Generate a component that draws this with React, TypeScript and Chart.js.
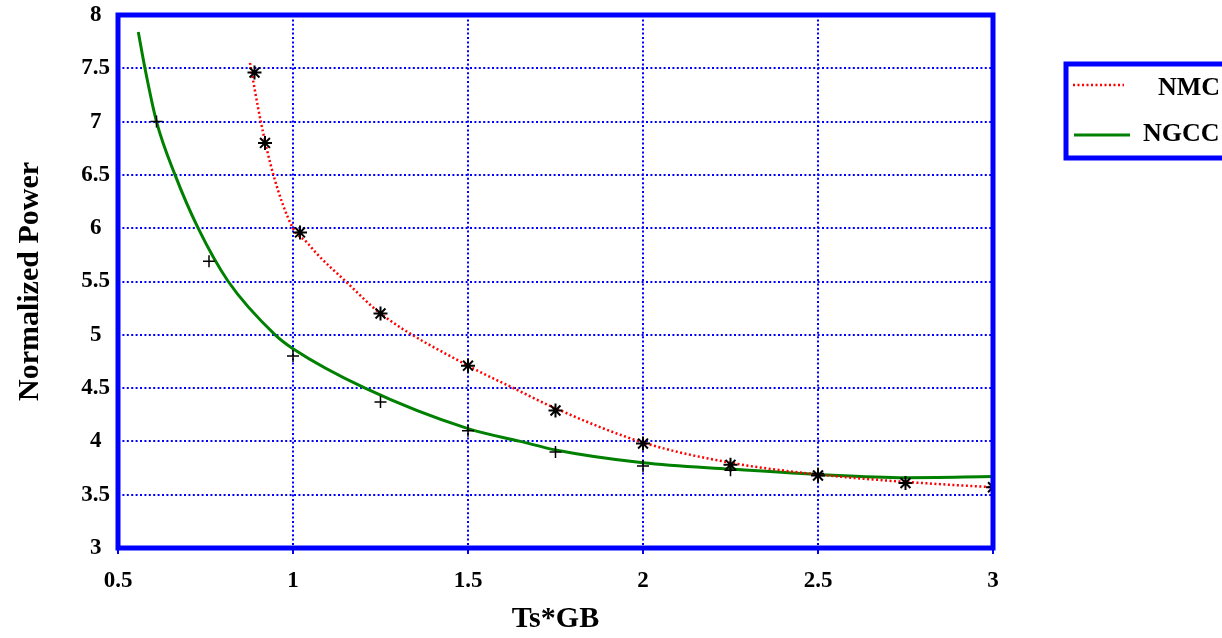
import React, { useEffect, useRef } from "react";
import { Chart, registerables } from "chart.js";

Chart.register(...registerables);

// Smooth fitted curves
const nmcCurveX = [0.877, 0.908, 0.944, 1.0, 1.039, 1.068, 1.151, 1.25, 1.5, 1.63, 1.75, 2.0, 2.25, 2.5, 2.75, 3.0];
const nmcCurveY = [7.55, 7.0, 6.5, 6.0, 5.87, 5.76, 5.5, 5.2, 4.71, 4.5, 4.31, 3.99, 3.8, 3.69, 3.62, 3.57];

const ngccCurveX = [0.558, 0.577, 0.61, 0.663, 0.729, 0.815, 0.949, 1.0, 1.206, 1.5, 1.65, 1.75, 2.0, 2.25, 2.5, 2.75, 3.0];
const ngccCurveY = [7.84, 7.5, 7.0, 6.5, 6.0, 5.5, 5.0, 4.87, 4.5, 4.12, 4.0, 3.92, 3.8, 3.74, 3.69, 3.66, 3.67];

// Measured points
const nmcPtsX = [0.89, 0.92, 1.02, 1.25, 1.5, 1.75, 2.0, 2.25, 2.5, 2.75, 3.0];
const nmcPtsY = [7.46, 6.8, 5.96, 5.2, 4.71, 4.29, 3.98, 3.78, 3.68, 3.61, 3.57];
const ngccPtsX = [0.61, 0.76, 1.0, 1.25, 1.5, 1.75, 2.0, 2.25, 2.5];
const ngccPtsY = [7.0, 5.69, 4.8, 4.37, 4.1, 3.9, 3.77, 3.73, 3.7];

const seriesLabels = ["NMC", "NGCC"];
const xTitle = "Ts*GB";
const yTitle = "Normalized Power";

const FONT = "'Liberation Serif', 'Times New Roman', serif";
const BLUE = "#0000ff";

const zip = (xs: number[], ys: number[]) => xs.map((x, i) => ({ x, y: ys[i] }));
const fmt = (v: any) => String(Number(v));

const frameAndLegend = {
  id: "frameAndLegend",
  afterDatasetsDraw(chart: any) {
    const { ctx, chartArea } = chart;
    ctx.save();
    ctx.strokeStyle = BLUE;
    ctx.lineWidth = 5;
    ctx.setLineDash([]);
    ctx.strokeRect(chartArea.left, chartArea.top, chartArea.right - chartArea.left, chartArea.bottom - chartArea.top);
    ctx.restore();
  },
  afterDraw(chart: any) {
    const { ctx } = chart;
    ctx.save();
    ctx.strokeStyle = BLUE;
    ctx.lineWidth = 5;
    ctx.setLineDash([]);
    ctx.strokeRect(1066, 64, 180, 94);
    const items = chart.data.datasets.filter((d: any) => d.legendItem);
    const rows = [
      { y: 85, lineStart: 1073, lineEnd: 1124, textX: 1158, textY: 88 },
      { y: 135, lineStart: 1074, lineEnd: 1130, textX: 1143, textY: 134 },
    ];
    items.forEach((d: any, i: number) => {
      const r = rows[i];
      ctx.beginPath();
      ctx.strokeStyle = d.borderColor;
      ctx.lineWidth = d.borderWidth;
      ctx.setLineDash(d.borderDash || []);
      ctx.moveTo(r.lineStart, r.y);
      ctx.lineTo(r.lineEnd, r.y);
      ctx.stroke();
      ctx.setLineDash([]);
      ctx.fillStyle = "#000";
      ctx.font = `bold 26px ${FONT}`;
      ctx.textAlign = "left";
      ctx.textBaseline = "middle";
      ctx.fillText(d.label, r.textX, r.textY);
    });
    ctx.restore();
  },
};

export default function App() {
  const ref = useRef<HTMLCanvasElement | null>(null);

  useEffect(() => {
    if (!ref.current) return;
    const chart = new Chart(ref.current, {
      type: "scatter",
      data: {
        datasets: [
          {
            type: "line",
            label: seriesLabels[0],
            legendItem: true,
            data: zip(nmcCurveX, nmcCurveY),
            borderColor: "#ff0000",
            borderWidth: 2.5,
            borderDash: [2, 2.5],
            pointRadius: 0,
            cubicInterpolationMode: "monotone",
            fill: false,
            order: 2,
          } as any,
          {
            type: "line",
            label: seriesLabels[1],
            legendItem: true,
            data: zip(ngccCurveX, ngccCurveY),
            borderColor: "#008000",
            borderWidth: 3,
            pointRadius: 0,
            cubicInterpolationMode: "monotone",
            fill: false,
            order: 3,
          } as any,
          {
            label: seriesLabels[0] + " points",
            data: zip(nmcPtsX, nmcPtsY),
            pointStyle: "star",
            pointRadius: 7,
            borderColor: "#000",
            backgroundColor: "#000",
            pointBorderWidth: 2,
            showLine: false,
            order: 0,
          } as any,
          {
            label: seriesLabels[1] + " points",
            data: zip(ngccPtsX, ngccPtsY),
            pointStyle: "cross",
            pointRadius: 6,
            borderColor: "#000",
            backgroundColor: "#000",
            pointBorderWidth: 1.5,
            showLine: false,
            order: 1,
          } as any,
        ],
      },
      options: {
        animation: false,
        responsive: false,
        layout: { padding: { left: 0, right: 229, top: 15, bottom: 0 } },
        plugins: {
          legend: { display: false },
          tooltip: { enabled: false },
        },
        scales: {
          x: {
            type: "linear",
            min: 0.5,
            max: 3,
            afterFit: (s: any) => {
              s.height = 90;
              s.paddingLeft = 0;
              s.paddingRight = 0;
            },
            ticks: {
              stepSize: 0.5,
              color: "#000",
              padding: 13,
              maxRotation: 0,
              callback: fmt,
              font: { family: FONT, weight: "bold", size: 23 },
            },
            grid: {
              color: BLUE,
              lineWidth: 2,
              drawTicks: true,
              tickLength: 6,
            },
            border: { display: false, dash: [2, 2.4] },
            title: {
              display: true,
              text: xTitle,
              color: "#000",
              font: { family: FONT, weight: "bold", size: 30 },
              padding: { top: 0, bottom: 1 },
            },
          },
          y: {
            type: "linear",
            min: 3,
            max: 8,
            afterFit: (s: any) => {
              s.width = 118;
              s.paddingTop = 0;
              s.paddingBottom = 0;
            },
            ticks: {
              stepSize: 0.5,
              color: "#000",
              padding: 8,
              crossAlign: "center",
              callback: fmt,
              font: { family: FONT, weight: "bold", size: 23 },
            },
            grid: {
              color: BLUE,
              lineWidth: 2,
              drawTicks: false,
            },
            border: { display: false, dash: [2, 2.4] },
            title: {
              display: true,
              text: yTitle,
              color: "#000",
              font: { family: FONT, weight: "bold", size: 30 },
              padding: { top: 12, bottom: 0 },
            },
          },
        },
      } as any,
      plugins: [frameAndLegend],
    });
    return () => chart.destroy();
  }, []);

  return (
    <div style={{ position: "absolute", left: 0, top: 0, width: 1222, height: 638, background: "#fff" }}>
      <canvas ref={ref} width={1222} height={638} style={{ width: 1222, height: 638 }} />
    </div>
  );
}
